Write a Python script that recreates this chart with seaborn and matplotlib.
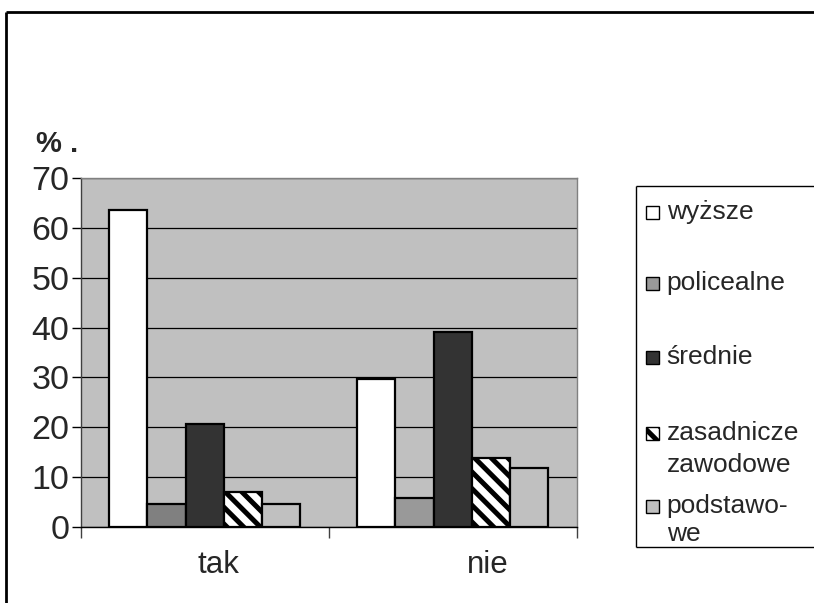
import matplotlib
matplotlib.use("Agg")
import matplotlib.pyplot as plt
import matplotlib.transforms as mtransforms
from matplotlib.patches import Rectangle
from matplotlib.lines import Line2D
import seaborn as sns
import pandas as pd

# --- data -------------------------------------------------------------
answers = ["tak", "nie"]
education = ["wyższe", "policealne", "średnie", "zasadnicze\nzawodowe", "podstawo-\nwe"]
share_tak = [63.6, 4.5, 20.6, 7.0, 4.5]
share_nie = [29.7, 5.7, 39.1, 13.8, 11.8]
y_ticks = [0, 10, 20, 30, 40, 50, 60, 70]

# --- styling ------------------------------------------------------------
fills = ["#ffffff", "#999999", "#333333", "#ffffff", "#c0c0c0"]
hatches = ["", "", "", "\\\\", ""]

sns.set_theme(style="white")
plt.rcParams["font.family"] = ["Liberation Sans", "DejaVu Sans"]
plt.rcParams["hatch.linewidth"] = 3.6
plt.rcParams["hatch.color"] = "black"

W, H = 814, 603
fx = lambda px: px / W
fy = lambda py: 1 - py / H

df = pd.DataFrame({
    "answer": [a for a in answers for _ in education],
    "education": education * len(answers),
    "share": share_tak + share_nie,
})

fig = plt.figure(figsize=(W / 100, H / 100), dpi=100, facecolor="white")
ax = fig.add_axes([fx(80.7), fy(526.7), fx(576.7) - fx(80.7), fy(178.3) - fy(526.7)])
ax.set_facecolor("#c0c0c0")

sns.barplot(data=df, x="answer", y="share", hue="education",
            order=answers, hue_order=education,
            palette=dict(zip(education, fills)), saturation=1,
            width=0.77, edgecolor="black", linewidth=1.6,
            legend=False, ax=ax)

for cont, hatch in zip(ax.containers, hatches):
    for bar in cont:
        bar.set_hatch(hatch)
# the "tak" post-secondary bar is drawn in a slightly darker grey
ax.containers[1][0].set_facecolor("#808080")

ax.set_ylim(0, 70)
ax.set_xlim(-0.5, 1.5)
ax.set_yticks(y_ticks)
ax.set_yticklabels([str(v) for v in y_ticks], fontsize=24.5)
ax.yaxis.grid(True, color="black", linewidth=0.9)
ax.set_axisbelow(True)
ax.tick_params(axis="y", direction="out", length=6.5, width=1, color="black", pad=1.5, left=True)

# category boundaries carry the tick marks, labels sit on minor ticks
ax.set_xticks([-0.5, 0.5, 1.5])
ax.set_xticklabels(["", "", ""])
ax.set_xticks([0, 1], minor=True)
ax.set_xticklabels(answers, minor=True, fontsize=22.5)
ax.tick_params(axis="x", which="major", direction="out", length=8, width=1, color="#404040", bottom=True)
ax.tick_params(axis="x", which="minor", length=0, pad=17)
for lab, shift in zip(ax.get_xticklabels(minor=True), [10, 25]):
    lab.set_transform(lab.get_transform() + mtransforms.ScaledTranslation(shift / 72, 0, fig.dpi_scale_trans))
ax.set_xlabel("")
ax.set_ylabel("")

for side in ["top", "right"]:
    ax.spines[side].set_color("#808080")
    ax.spines[side].set_linewidth(1)
ax.spines["left"].set_color("#404040")
ax.spines["bottom"].set_color("black")
for side in ["left", "bottom"]:
    ax.spines[side].set_linewidth(1)

# axis caption
fig.text(fx(36), fy(152), "% .", fontsize=21, fontweight="bold", va="baseline", ha="left")

# outer chart frame
fig.add_artist(Line2D([fx(6), fx(6)], [fy(H), fy(12)], solid_capstyle="butt",
                      transform=fig.transFigure, color="black", linewidth=2))
fig.add_artist(Line2D([fx(6), fx(W)], [fy(12), fy(12)], solid_capstyle="butt",
                      transform=fig.transFigure, color="black", linewidth=2))

# legend box, running off the right edge
for xs, ys in [((635.7, W), (185.7, 185.7)),
               ((635.7, 635.7), (185.7, 546.7)),
               ((635.7, W), (546.7, 546.7))]:
    fig.add_artist(Line2D([fx(x) for x in xs], [fy(y) for y in ys], solid_capstyle="butt",
                          transform=fig.transFigure, color="black", linewidth=1))

legend_baselines = [219.3, 290.0, 364.3, 440.0, 513.3]
line_steps = [0, 0, 0, 31.7, 28.0]
for label, fill, hatch, base, step in zip(education, fills, hatches, legend_baselines, line_steps):
    fig.add_artist(Rectangle((fx(645.5), fy(base - 0.5)), 13 / W, 13 / H,
                             transform=fig.transFigure, facecolor=fill, hatch=hatch,
                             edgecolor="black", linewidth=1))
    for k, line in enumerate(label.split("\n")):
        fig.text(fx(666.7), fy(base + k * step), line, fontsize=19, va="baseline", ha="left")

fig.savefig("out.png", dpi=100, facecolor="white")
